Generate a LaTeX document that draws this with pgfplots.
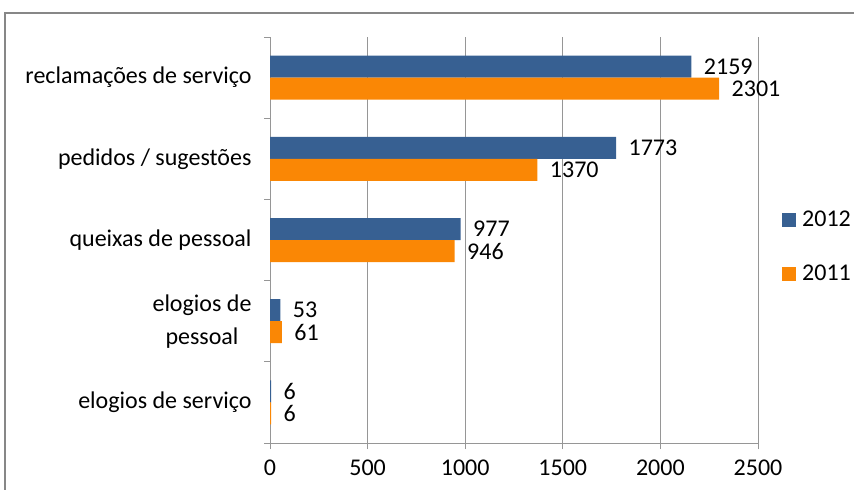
\documentclass[border=0pt]{standalone}
\usepackage{pgfplots}
\pgfplotsset{compat=1.18}
\usepackage{fontspec}
\setmainfont{Carlito}
\definecolor{bblue}{RGB}{55,96,146}
\definecolor{borange}{RGB}{250,135,5}
\definecolor{gridgray}{RGB}{150,150,150}
\definecolor{framegray}{RGB}{135,135,135}
\begin{document}
\begin{tikzpicture}[font=\fontsize{24bp}{33bp}\selectfont]
\useasboundingbox (0,0) rectangle (854bp,490bp);
\draw[framegray, line width=2.2bp] (5bp,-20bp) -- (5bp,477bp) -- (880bp,477bp);
\begin{axis}[
  at={(270bp,47bp)}, anchor=south west,
  scale only axis, width=488bp, height=406bp,
  xbar, bar width=22bp,
  xmin=0, xmax=2500, ymin=-0.5, ymax=4.5,
  y dir=reverse,
  /pgf/number format/.cd, 1000 sep={}, assume math mode=true, /pgfplots/.cd,
  xtick={0,500,...,2500},
  ytick={-0.5,0.5,...,4.5},
  yticklabels={},
  extra y ticks={0,1,2,3,4},
  extra y tick labels={reclamações de serviço, pedidos / sugestões, queixas de pessoal, {elogios de\\pessoal}, elogios de serviço},
  extra y tick style={major tick length=0pt, tick style={draw=none}, yticklabel style={align=center, xshift=-15bp}},
  axis x line*=bottom, axis y line*=left,
  axis line style={-, draw=gridgray, line width=1bp},
  xmajorgrids, grid style={draw=gridgray, line width=1bp},
  tick align=outside,
  major tick length=6bp,
  tick style={draw=gridgray, line width=1bp},
  xticklabel style={yshift=-7bp},
  point meta=x,
  nodes near coords,
  every node near coord/.append style={anchor=west, xshift=9bp, black},
  legend style={at={(1.043,0.483)}, anchor=west, draw=none, fill=none, row sep=33bp, font=\fontsize{24bp}{28bp}\selectfont, /tikz/every odd column/.append style={column sep=4bp}},
  legend cell align=left,
]
\addplot[fill=bblue, draw=none, bar shift=11bp, legend image code/.code={\path[fill=bblue] (0bp,-7bp) rectangle (14bp,7bp);}] coordinates {(2159,0) (1773,1) (977,2) (53,3) (6,4)};
\addplot[fill=borange, draw=none, bar shift=-11bp, legend image code/.code={\path[fill=borange] (0bp,-7bp) rectangle (14bp,7bp);}] coordinates {(2301,0) (1370,1) (946,2) (61,3) (6,4)};
\legend{2012,2011}
\end{axis}
\end{tikzpicture}
\end{document}
